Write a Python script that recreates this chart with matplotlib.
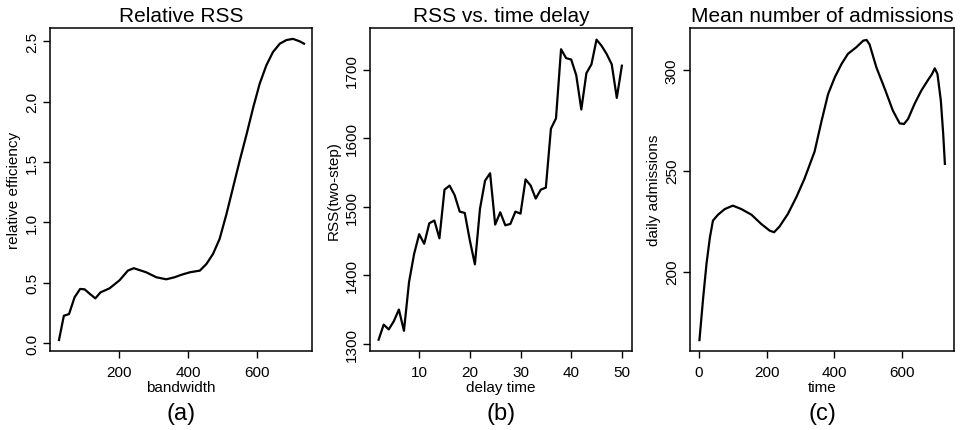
import numpy as np
import matplotlib.pyplot as plt

plt.rcParams['font.family'] = ['Liberation Sans', 'DejaVu Sans']

# (a) relative RSS vs bandwidth
bw = [27, 41, 56, 72, 88, 101, 115, 132, 147, 173, 202, 226, 243, 279, 308, 337,
      361, 380, 405, 434, 453, 472, 491, 511, 530, 549, 569, 588, 607, 626, 645,
      665, 684, 703, 722, 735]
rel_eff = [0.025, 0.226, 0.24, 0.379, 0.448, 0.445, 0.41, 0.37, 0.42, 0.453, 0.52,
           0.60, 0.62, 0.586, 0.545, 0.528, 0.545, 0.565, 0.586, 0.60, 0.655, 0.738,
           0.862, 1.07, 1.29, 1.51, 1.73, 1.95, 2.15, 2.30, 2.41, 2.48, 2.51, 2.52,
           2.50, 2.48]

# (b) RSS(two-step) vs delay time
delay = list(range(2, 51))
rss = [1306, 1328, 1321, 1333, 1350, 1319, 1390, 1431, 1460, 1446, 1476, 1480, 1454,
       1525, 1531, 1517, 1493, 1491, 1451, 1416, 1497, 1538, 1549, 1474, 1492, 1473,
       1475, 1493, 1490, 1540, 1531, 1512, 1525, 1528, 1614, 1629, 1730, 1717, 1715,
       1692, 1642, 1695, 1708, 1744, 1735, 1723, 1708, 1659, 1706]

# (c) mean number of admissions
t = [1, 12, 22, 32, 41, 56, 76, 100, 125, 155, 184, 209, 222, 238, 263, 288, 312,
     342, 363, 382, 402, 422, 441, 466, 486, 496, 505, 525, 550, 574, 594, 607,
     619, 638, 658, 678, 690, 698, 706, 716, 723, 728]
adm = [166, 187, 204, 217, 225.3, 228.2, 231, 232.7, 231, 228.2, 223.6, 220.3,
       219.5, 222.3, 228.6, 236.9, 246, 259.5, 274.9, 288, 296.4, 303, 308, 311.3,
       314.5, 314.9, 312.6, 301.3, 290.6, 279.8, 273.5, 273.2, 275.7, 283.1, 289.7,
       295, 298, 300.8, 298, 284.8, 268.3, 253.4]

fig = plt.figure(figsize=(9.62, 4.31), dpi=100)
ax1 = fig.add_axes([50/962, 79/431, 262/962, 323/431])
ax2 = fig.add_axes([370/962, 79/431, 262/962, 323/431])
ax3 = fig.add_axes([690/962, 79/431, 264/962, 323/431])

ax1.plot(bw, rel_eff, color='black', lw=1.6)
ax1.set_xlim(1, 758)
ax1.set_ylim(-0.066, 2.61)
ax1.set_xticks([200, 400, 600])
ax1.set_yticks([0, 0.5, 1.0, 1.5, 2.0, 2.5])
ax1.set_yticklabels(['0.0', '0.5', '1.0', '1.5', '2.0', '2.5'])
ax1.set_title('Relative RSS', fontsize=15, pad=5)
ax1.set_xlabel('bandwidth')
ax1.set_ylabel('relative efficiency')

ax2.plot(delay, rss, color='black', lw=1.6)
ax2.set_xlim(0.3, 52)
ax2.set_ylim(1289.5, 1761)
ax2.set_xticks([10, 20, 30, 40, 50])
ax2.set_yticks([1300, 1400, 1500, 1600, 1700])
ax2.set_title('RSS vs. time delay', fontsize=15, pad=5)
ax2.set_xlabel('delay time')
ax2.set_ylabel('RSS(two-step)')

ax3.plot(t, adm, color='black', lw=1.6)
ax3.set_xlim(-27, 755)
ax3.set_ylim(160.6, 320.8)
ax3.set_xticks([0, 200, 400, 600])
ax3.set_yticks([200, 250, 300])
ax3.set_title('Mean number of admissions', fontsize=15, pad=5)
ax3.set_xlabel('time')
ax3.set_ylabel('daily admissions')

for ax, tag in zip([ax1, ax2, ax3], ['(a)', '(b)', '(c)']):
    ax.xaxis.label.set_fontsize(11)
    ax.yaxis.label.set_fontsize(11)
    ax.xaxis.labelpad = 1
    ax.yaxis.labelpad = 3
    ax.tick_params(direction='out', length=5, width=1, labelsize=11)
    ax.tick_params(axis='x', pad=5)
    ax.tick_params(axis='y', pad=3, labelrotation=90)
    for lab in ax.get_yticklabels():
        lab.set_va('center')
    for s in ax.spines.values():
        s.set_linewidth(1.1)
    ax.text(0.5, -0.192, tag, transform=ax.transAxes, ha='center', va='center',
            fontsize=17)

fig.savefig('out.png', dpi=100)
